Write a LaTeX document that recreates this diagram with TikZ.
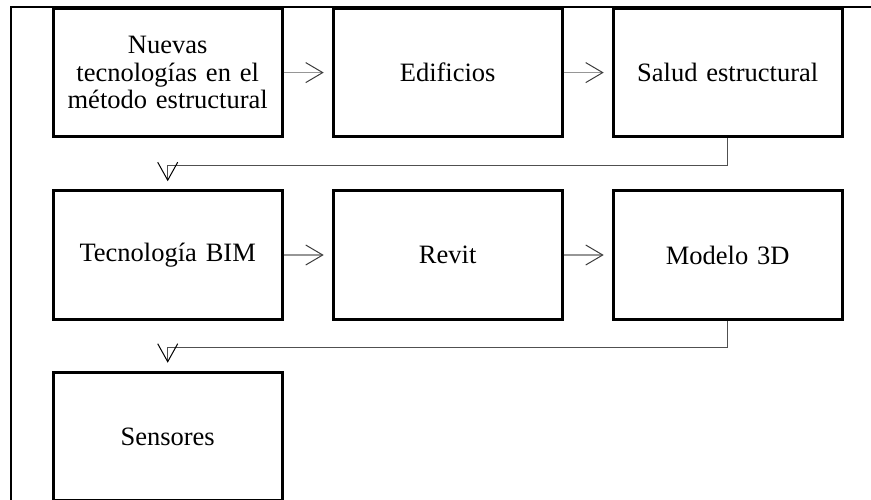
\documentclass[tikz,border=0pt]{standalone}
\usepackage{fontspec}
\setmainfont{Liberation Serif}
\usetikzlibrary{arrows.meta}
\definecolor{linegray}{RGB}{150,150,150}
\definecolor{tipgray}{RGB}{60,60,60}
\definecolor{elbowgray}{RGB}{80,80,80}
\tikzset{
  box/.style={draw=black, line width=3pt, minimum width=229pt, minimum height=128.5pt,
    inner sep=0pt, align=center, text width=224pt, font=\fontsize{26.5}{27.5}\selectfont},
  harrow/.style={draw=linegray, line width=1.2pt, shorten >=8pt,
    -{Straight Barb[length=17pt, width=20pt, line width=1pt, color=tipgray]}},
  elbow/.style={draw=elbowgray, line width=1.2pt, shorten >=8pt,
    -{Straight Barb[length=18pt, width=20pt, line width=1pt, color=black]}},
  frame/.style={draw=black, line width=1.3pt}
}
\begin{document}
\begin{tikzpicture}[x=1pt,y=-1pt]
\useasboundingbox (0,0) rectangle (871,500);
\clip (0,0) rectangle (871,500);
\coordinate (fa) at (11,500);
\coordinate (fb) at (11,7);
\coordinate (fc) at (871,7);
\draw[frame] (fa) -- (fb) -- (fc);
\node[box] (n1) at (167.7,72.6) {Nuevas\\tecnologías en el\\método estructural};
\node[box] (n2) at (447.7,72.6) {Edificios};
\node[box] (n3) at (727.7,72.6) {Salud estructural};
\node[box] (n4) at (167.7,255) {Tecnología BIM};
\node[box] (n5) at (447.7,255) {Revit};
\node[box] (n6) at (727.7,255) {Modelo 3D};
\node[box] (n7) at (167.7,436.5) {Sensores};
\draw[harrow] (n1.east) -- (n2.west);
\draw[harrow] (n2.east) -- (n3.west);
\draw[harrow] (n4.east) -- (n5.west);
\draw[harrow] (n5.east) -- (n6.west);
\draw[elbow] (n3.south) -- ++(0,27.5) -| (n4.north);
\draw[elbow] (n6.south) -- ++(0,27) -| (n7.north);
\end{tikzpicture}
\end{document}
